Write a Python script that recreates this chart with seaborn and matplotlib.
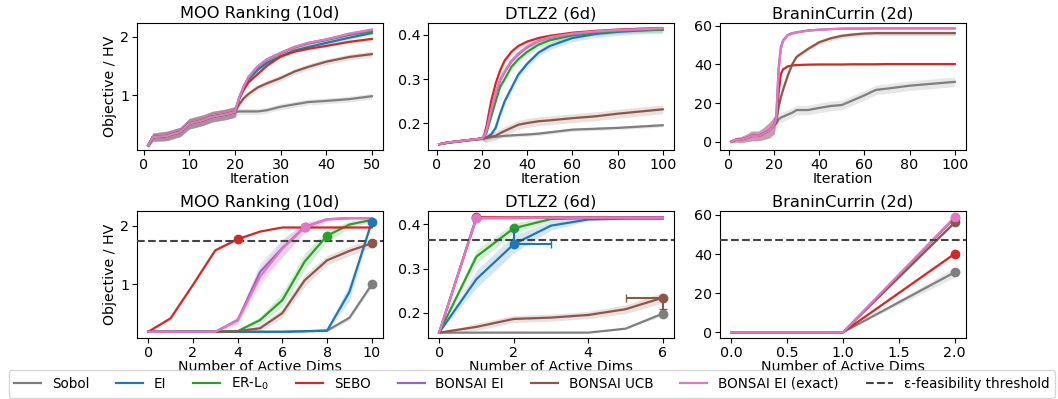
import numpy as np
import pandas as pd
import matplotlib
matplotlib.use("Agg")
import matplotlib.pyplot as plt
from matplotlib.lines import Line2D
import seaborn as sns

# ---------------- data ----------------
METHODS = ["Sobol", "EI", "ER-L$_0$", "SEBO", "BONSAI EI", "BONSAI UCB", "BONSAI EI (exact)"]
PALETTE_IDX = [7, 0, 2, 3, 4, 5, 6]

# Top row: best objective / HV vs iteration
moo_it_x = [1, 2, 5, 8, 10, 13, 15, 18, 20, 21, 22, 23, 25, 27, 30, 33, 36, 40, 45, 50]
moo_it_init = [0.14, 0.28, 0.30, 0.37, 0.51, 0.57, 0.63, 0.67, 0.71]
moo_it_init_se = [0.03, 0.07, 0.08, 0.08, 0.09, 0.09, 0.09, 0.09, 0.09]
moo_it_sobol = [0.72, 0.72, 0.72, 0.72, 0.74, 0.80, 0.84, 0.88, 0.90, 0.93, 0.98]
moo_it_ei = [0.95, 1.13, 1.27, 1.43, 1.55, 1.66, 1.76, 1.82, 1.89, 1.98, 2.06]
moo_it_erl0 = [0.96, 1.15, 1.30, 1.48, 1.60, 1.71, 1.81, 1.88, 1.94, 2.03, 2.09]
moo_it_sebo = [0.95, 1.10, 1.22, 1.36, 1.50, 1.66, 1.74, 1.79, 1.84, 1.91, 1.96]
moo_it_bonsai_ei = [0.97, 1.16, 1.31, 1.49, 1.61, 1.72, 1.82, 1.89, 1.95, 2.04, 2.11]
moo_it_bonsai_ucb = [0.85, 0.95, 1.02, 1.13, 1.20, 1.29, 1.40, 1.48, 1.57, 1.65, 1.70]
moo_it_bonsai_exact = [0.97, 1.16, 1.31, 1.49, 1.61, 1.72, 1.82, 1.89, 1.95, 2.05, 2.12]
moo_it_se = [0.05, 0.03, 0.03, 0.02, 0.03, 0.05, 0.03]

dtlz_it_x = [1, 5, 10, 15, 20, 21, 22, 24, 26, 28, 30, 33, 36, 40, 45, 50, 60, 70, 80, 90, 100]
dtlz_it_init = [0.153, 0.157, 0.160, 0.163, 0.166]
dtlz_it_init_se = [0.001, 0.002, 0.002, 0.002, 0.003]
dtlz_it_sobol = [0.167, 0.168, 0.169, 0.170, 0.171, 0.172, 0.173, 0.174, 0.175, 0.177, 0.180, 0.186, 0.188, 0.190, 0.193, 0.196]
dtlz_it_ei = [0.166, 0.168, 0.175, 0.190, 0.222, 0.250, 0.280, 0.310, 0.335, 0.360, 0.375, 0.393, 0.402, 0.407, 0.410, 0.412]
dtlz_it_erl0 = [0.170, 0.180, 0.215, 0.250, 0.283, 0.300, 0.328, 0.345, 0.362, 0.378, 0.388, 0.399, 0.405, 0.409, 0.411, 0.412]
dtlz_it_sebo = [0.175, 0.195, 0.250, 0.290, 0.320, 0.342, 0.362, 0.375, 0.385, 0.393, 0.398, 0.405, 0.409, 0.412, 0.414, 0.415]
dtlz_it_bonsai_ei = [0.172, 0.184, 0.228, 0.268, 0.297, 0.316, 0.340, 0.356, 0.372, 0.386, 0.394, 0.402, 0.407, 0.410, 0.412, 0.414]
dtlz_it_bonsai_ucb = [0.167, 0.168, 0.170, 0.172, 0.178, 0.183, 0.190, 0.197, 0.201, 0.205, 0.207, 0.212, 0.216, 0.222, 0.227, 0.232]
dtlz_it_bonsai_exact = [0.172, 0.185, 0.230, 0.270, 0.300, 0.318, 0.342, 0.358, 0.374, 0.387, 0.395, 0.403, 0.408, 0.411, 0.413, 0.415]
dtlz_it_se = [0.004, 0.008, 0.006, 0.004, 0.004, 0.010, 0.004]

bc_it_x = [1, 3, 5, 8, 10, 13, 15, 18, 20, 21, 22, 23, 24, 26, 28, 30, 35, 40, 45, 50, 55, 60, 65, 70, 80, 90, 100]
bc_it_init = [0.0, 1.0, 1.0, 2.0, 3.0, 3.0, 4.0, 6.0, 8.5]
bc_it_init_se = [0.5, 1.2, 1.5, 2.0, 2.5, 2.5, 3.0, 4.0, 4.5]
bc_it_sobol = [9.5, 11.5, 12.5, 13.0, 14.0, 15.0, 16.4, 16.4, 17.5, 18.5, 19.0, 21.5, 24.0, 26.8, 27.5, 29.0, 30.0, 31.0]
bc_it_sebo = [11.0, 25.0, 35.0, 37.5, 39.0, 39.5, 39.7, 39.9, 40.0, 40.0, 40.0, 40.1, 40.1, 40.1, 40.2, 40.2, 40.2, 40.2]
bc_it_bonsai_ei = [14.0, 38.0, 49.0, 52.5, 55.2, 56.2, 56.7, 57.6, 58.0, 58.3, 58.5, 58.6, 58.6, 58.7, 58.7, 58.7, 58.7, 58.7]
bc_it_bonsai_ucb = [10.0, 18.0, 23.0, 27.0, 34.0, 40.0, 44.0, 48.0, 51.5, 53.5, 54.8, 55.5, 56.0, 56.2, 56.2, 56.2, 56.2, 56.2]
bc_it_bonsai_exact = [12.0, 36.0, 48.0, 52.0, 55.0, 56.0, 56.5, 57.5, 58.0, 58.3, 58.5, 58.6, 58.6, 58.7, 58.7, 58.7, 58.7, 58.7]
bc_it_se = [2.5, None, None, 0.5, 0.3, 1.2, 0.3]

# Bottom row: objective / HV vs number of active dims
moo_d_x = [0, 1, 2, 3, 4, 5, 6, 7, 8, 9, 10]
moo_d_sobol = [0.19, 0.19, 0.19, 0.19, 0.19, 0.19, 0.19, 0.20, 0.21, 0.43, 1.00]
moo_d_ei = [0.19, 0.19, 0.19, 0.19, 0.19, 0.19, 0.19, 0.20, 0.21, 0.87, 2.07]
moo_d_erl0 = [0.19, 0.19, 0.19, 0.19, 0.20, 0.39, 0.73, 1.39, 1.83, 2.02, 2.10]
moo_d_sebo = [0.19, 0.42, 0.99, 1.58, 1.77, 1.90, 1.97, 1.97, 1.97, 1.97, 1.97]
moo_d_bonsai_ei = [0.19, 0.19, 0.19, 0.19, 0.39, 1.21, 1.62, 1.98, 2.11, 2.13, 2.13]
moo_d_bonsai_ucb = [0.19, 0.19, 0.19, 0.19, 0.20, 0.25, 0.51, 1.07, 1.41, 1.57, 1.70]
moo_d_bonsai_exact = [0.19, 0.19, 0.19, 0.19, 0.38, 1.13, 1.61, 1.97, 2.11, 2.13, 2.13]
moo_d_sobol_se = [0.01, 0.01, 0.01, 0.01, 0.01, 0.01, 0.01, 0.01, 0.02, 0.04, 0.05]
moo_d_ei_se = [0.01, 0.01, 0.01, 0.01, 0.01, 0.01, 0.01, 0.01, 0.02, 0.15, 0.04]
moo_d_erl0_se = [0.01, 0.01, 0.01, 0.01, 0.02, 0.06, 0.12, 0.14, 0.10, 0.06, 0.03]
moo_d_sebo_se = [0.01, 0.02, 0.02, 0.02, 0.02, 0.01, 0.01, 0.01, 0.01, 0.01, 0.01]
moo_d_bonsai_ei_se = [0.01, 0.01, 0.01, 0.01, 0.06, 0.15, 0.15, 0.08, 0.03, 0.02, 0.02]
moo_d_bonsai_ucb_se = [0.01, 0.01, 0.01, 0.01, 0.02, 0.05, 0.08, 0.10, 0.08, 0.08, 0.07]
moo_d_bonsai_exact_se = [0.01, 0.01, 0.01, 0.01, 0.06, 0.15, 0.15, 0.08, 0.03, 0.02, 0.02]
moo_threshold = 1.744
moo_marker_dims = [10, 10, 8, 4, 7, 10, 7]

dtlz_d_x = [0, 1, 2, 3, 4, 5, 6]
dtlz_d_sobol = [0.155, 0.155, 0.155, 0.155, 0.155, 0.164, 0.198]
dtlz_d_ei = [0.155, 0.276, 0.355, 0.397, 0.411, 0.413, 0.413]
dtlz_d_erl0 = [0.155, 0.327, 0.391, 0.412, 0.414, 0.414, 0.414]
dtlz_d_sebo = [0.155, 0.416, 0.416, 0.416, 0.416, 0.416, 0.416]
dtlz_d_bonsai_ei = [0.155, 0.414, 0.414, 0.415, 0.415, 0.415, 0.415]
dtlz_d_bonsai_ucb = [0.155, 0.168, 0.186, 0.189, 0.195, 0.208, 0.234]
dtlz_d_bonsai_exact = [0.155, 0.414, 0.415, 0.415, 0.415, 0.415, 0.415]
dtlz_d_sobol_se = [0.0, 0.0, 0.0, 0.0, 0.0, 0.002, 0.004]
dtlz_d_ei_se = [0.0, 0.02, 0.02, 0.01, 0.003, 0.002, 0.002]
dtlz_d_erl0_se = [0.0, 0.015, 0.012, 0.005, 0.002, 0.002, 0.002]
dtlz_d_sebo_se = [0.0, 0.003, 0.002, 0.002, 0.002, 0.002, 0.002]
dtlz_d_bonsai_ei_se = [0.0, 0.003, 0.002, 0.002, 0.002, 0.002, 0.002]
dtlz_d_bonsai_ucb_se = [0.0, 0.008, 0.008, 0.008, 0.008, 0.010, 0.012]
dtlz_d_bonsai_exact_se = [0.0, 0.003, 0.002, 0.002, 0.002, 0.002, 0.002]
dtlz_threshold = 0.3645
dtlz_marker_dims = [6, 2, 2, 1, 1, 6, 1]
# asymmetric error bars on the marker: (x_lo, x_hi, y_lo, y_hi)
dtlz_ei_err = [0.0, 1.0, 0.0, 0.035]
dtlz_ucb_err = [0.98, 0.0, 0.025, 0.0]

bc_d_x = [0.0, 1.0, 2.0]
bc_d_sobol = [0.0, 0.0, 30.7]
bc_d_sebo = [0.0, 0.0, 40.2]
bc_d_bonsai_ei = [0.0, 0.0, 58.5]
bc_d_bonsai_ucb = [0.0, 0.0, 56.2]
bc_d_bonsai_exact = [0.0, 0.0, 59.0]
bc_d_sobol_se = [0.0, 0.0, 2.5]
bc_d_sebo_se = [0.0, 0.0, 0.8]
bc_d_bonsai_ei_se = [0.0, 0.0, 0.5]
bc_d_bonsai_ucb_se = [0.0, 0.0, 0.8]
bc_d_bonsai_exact_se = [0.0, 0.0, 0.5]
bc_threshold = 47.2
bc_marker_dims = [2, None, None, 2, 2, 2, 2]

# ---------------- style ----------------
pal = sns.color_palette("tab10")
COLORS = {m: pal[i] for m, i in zip(METHODS, PALETTE_IDX)}
THR_COLOR = "#444444"
LW = 1.6
TICK_FS = 10.3
LABEL_FS = 10.2
TITLE_FS = 11.7

plt.rcParams["font.family"] = ["DejaVu Sans"]

fig = plt.figure(figsize=(10.58, 3.99), dpi=100)
lefts = [0.1295, 0.4045, 0.6805]
W = 0.2325
top_ax = [fig.add_axes([l, 0.624, W, 0.3195]) for l in lefts]
bot_ax = [fig.add_axes([l, 0.153, W, 0.318]) for l in lefts]


def build_series(x, values_by_method, se_by_method):
    rows = []
    for m in METHODS:
        if values_by_method.get(m) is None:
            continue
        for xi, yi, si in zip(x, values_by_method[m], se_by_method[m]):
            rows.append({"x": xi, "y": yi, "se": si, "method": m})
    return pd.DataFrame(rows)


def draw(ax, df):
    order = [m for m in METHODS if m in set(df["method"])]
    for m in order:
        d = df[df["method"] == m]
        ax.fill_between(d["x"], d["y"] - d["se"], d["y"] + d["se"],
                        color=COLORS[m], alpha=0.18, lw=0, zorder=1)
    sns.lineplot(data=df, x="x", y="y", hue="method", hue_order=order,
                 palette=COLORS, errorbar=None, legend=False, lw=LW,
                 sort=False, ax=ax, zorder=2)


# ---- top row ----
def top_values(init, posts):
    return {m: (None if p is None else init + p) for m, p in zip(METHODS, posts)}


def top_se(init_se, post_se, n_post):
    return {m: (None if s is None else init_se + [s] * n_post) for m, s in zip(METHODS, post_se)}


moo_posts = [moo_it_sobol, moo_it_ei, moo_it_erl0, moo_it_sebo, moo_it_bonsai_ei,
             moo_it_bonsai_ucb, moo_it_bonsai_exact]
dtlz_posts = [dtlz_it_sobol, dtlz_it_ei, dtlz_it_erl0, dtlz_it_sebo, dtlz_it_bonsai_ei,
              dtlz_it_bonsai_ucb, dtlz_it_bonsai_exact]
bc_posts = [bc_it_sobol, None, None, bc_it_sebo, bc_it_bonsai_ei,
            bc_it_bonsai_ucb, bc_it_bonsai_exact]

top_specs = [
    (moo_it_x, moo_it_init, moo_it_init_se, moo_posts, moo_it_se, "MOO Ranking (10d)", (0.06, 2.24), [1, 2]),
    (dtlz_it_x, dtlz_it_init, dtlz_it_init_se, dtlz_posts, dtlz_it_se, "DTLZ2 (6d)", (0.140, 0.428), [0.2, 0.3, 0.4]),
    (bc_it_x, bc_it_init, bc_it_init_se, bc_posts, bc_it_se, "BraninCurrin (2d)", (-4.3, 61.7), [0, 20, 40, 60]),
]
for ax, (x, init, init_se, posts, post_se, title, ylim, yt) in zip(top_ax, top_specs):
    n_post = len(x) - len(init)
    df = build_series(x, top_values(init, posts), top_se(init_se, post_se, n_post))
    draw(ax, df)
    ax.set_title(title, fontsize=TITLE_FS, pad=3)
    ax.set_xlabel("Iteration", fontsize=LABEL_FS, labelpad=0)
    ax.set_ylabel("")
    ax.set_ylim(*ylim)
    ax.set_yticks(yt)
    ax.tick_params(labelsize=TICK_FS, pad=2)
top_ax[0].set_xticks([0, 10, 20, 30, 40, 50])
top_ax[1].set_xticks([0, 20, 40, 60, 80, 100])
top_ax[2].set_xticks([0, 20, 40, 60, 80, 100])
top_ax[0].set_ylabel("Objective / HV", fontsize=LABEL_FS, labelpad=2)

# ---- bottom row ----
moo_vals = dict(zip(METHODS, [moo_d_sobol, moo_d_ei, moo_d_erl0, moo_d_sebo, moo_d_bonsai_ei,
                              moo_d_bonsai_ucb, moo_d_bonsai_exact]))
moo_ses = dict(zip(METHODS, [moo_d_sobol_se, moo_d_ei_se, moo_d_erl0_se, moo_d_sebo_se,
                             moo_d_bonsai_ei_se, moo_d_bonsai_ucb_se, moo_d_bonsai_exact_se]))
dtlz_vals = dict(zip(METHODS, [dtlz_d_sobol, dtlz_d_ei, dtlz_d_erl0, dtlz_d_sebo, dtlz_d_bonsai_ei,
                               dtlz_d_bonsai_ucb, dtlz_d_bonsai_exact]))
dtlz_ses = dict(zip(METHODS, [dtlz_d_sobol_se, dtlz_d_ei_se, dtlz_d_erl0_se, dtlz_d_sebo_se,
                              dtlz_d_bonsai_ei_se, dtlz_d_bonsai_ucb_se, dtlz_d_bonsai_exact_se]))
bc_vals = dict(zip(METHODS, [bc_d_sobol, None, None, bc_d_sebo, bc_d_bonsai_ei,
                             bc_d_bonsai_ucb, bc_d_bonsai_exact]))
bc_ses = dict(zip(METHODS, [bc_d_sobol_se, None, None, bc_d_sebo_se, bc_d_bonsai_ei_se,
                            bc_d_bonsai_ucb_se, bc_d_bonsai_exact_se]))

bot_specs = [
    (moo_d_x, moo_vals, moo_ses, moo_threshold, moo_marker_dims, "MOO Ranking (10d)", (0.085, 2.25), [1, 2],
     [0, 2, 4, 6, 8, 10]),
    (dtlz_d_x, dtlz_vals, dtlz_ses, dtlz_threshold, dtlz_marker_dims, "DTLZ2 (6d)", (0.143, 0.430),
     [0.2, 0.3, 0.4], [0, 2, 4, 6]),
    (bc_d_x, bc_vals, bc_ses, bc_threshold, bc_marker_dims, "BraninCurrin (2d)", (-2.9, 62.0),
     [0, 20, 40, 60], [0.0, 0.5, 1.0, 1.5, 2.0]),
]
for ax, (x, vals, ses, thr, mdims, title, ylim, yt, xt) in zip(bot_ax, bot_specs):
    df = build_series(x, vals, ses)
    draw(ax, df)
    ax.axhline(thr, color=THR_COLOR, ls="--", lw=1.5, zorder=3)
    for m, md in zip(METHODS, mdims):
        if md is None or vals.get(m) is None:
            continue
        i = list(x).index(md)
        ax.plot([x[i]], [vals[m][i]], "o", color=COLORS[m], ms=6, zorder=4)
    ax.set_title(title, fontsize=TITLE_FS, pad=3)
    ax.set_xlabel("Number of Active Dims", fontsize=LABEL_FS, labelpad=0)
    ax.set_ylabel("")
    ax.set_ylim(*ylim)
    ax.set_yticks(yt)
    ax.set_xticks(xt)
    ax.tick_params(labelsize=TICK_FS, pad=2)
bot_ax[0].set_ylabel("Objective / HV", fontsize=LABEL_FS, labelpad=2)

# error bars on DTLZ2 markers
for m, err in [("EI", dtlz_ei_err), ("BONSAI UCB", dtlz_ucb_err)]:
    md = dtlz_marker_dims[METHODS.index(m)]
    i = dtlz_d_x.index(md)
    xv, yv = dtlz_d_x[i], dtlz_vals[m][i]
    bot_ax[1].errorbar([xv], [yv], xerr=[[err[0]], [err[1]]], yerr=[[err[2]], [err[3]]],
                       fmt="none", ecolor=COLORS[m], elinewidth=1.5, capsize=3, zorder=4)

# ---- legend ----
handles = [Line2D([], [], color=COLORS[m], lw=LW) for m in METHODS]
handles.append(Line2D([], [], color=THR_COLOR, ls="--", lw=1.5))
labels = METHODS + ["ε-feasibility threshold"]
fig.legend(handles, labels, loc="lower center", bbox_to_anchor=(0.5025, 0.0), ncol=8,
           fontsize=9.72, frameon=True, borderaxespad=0.1)

fig.savefig("out.png", dpi=100)
